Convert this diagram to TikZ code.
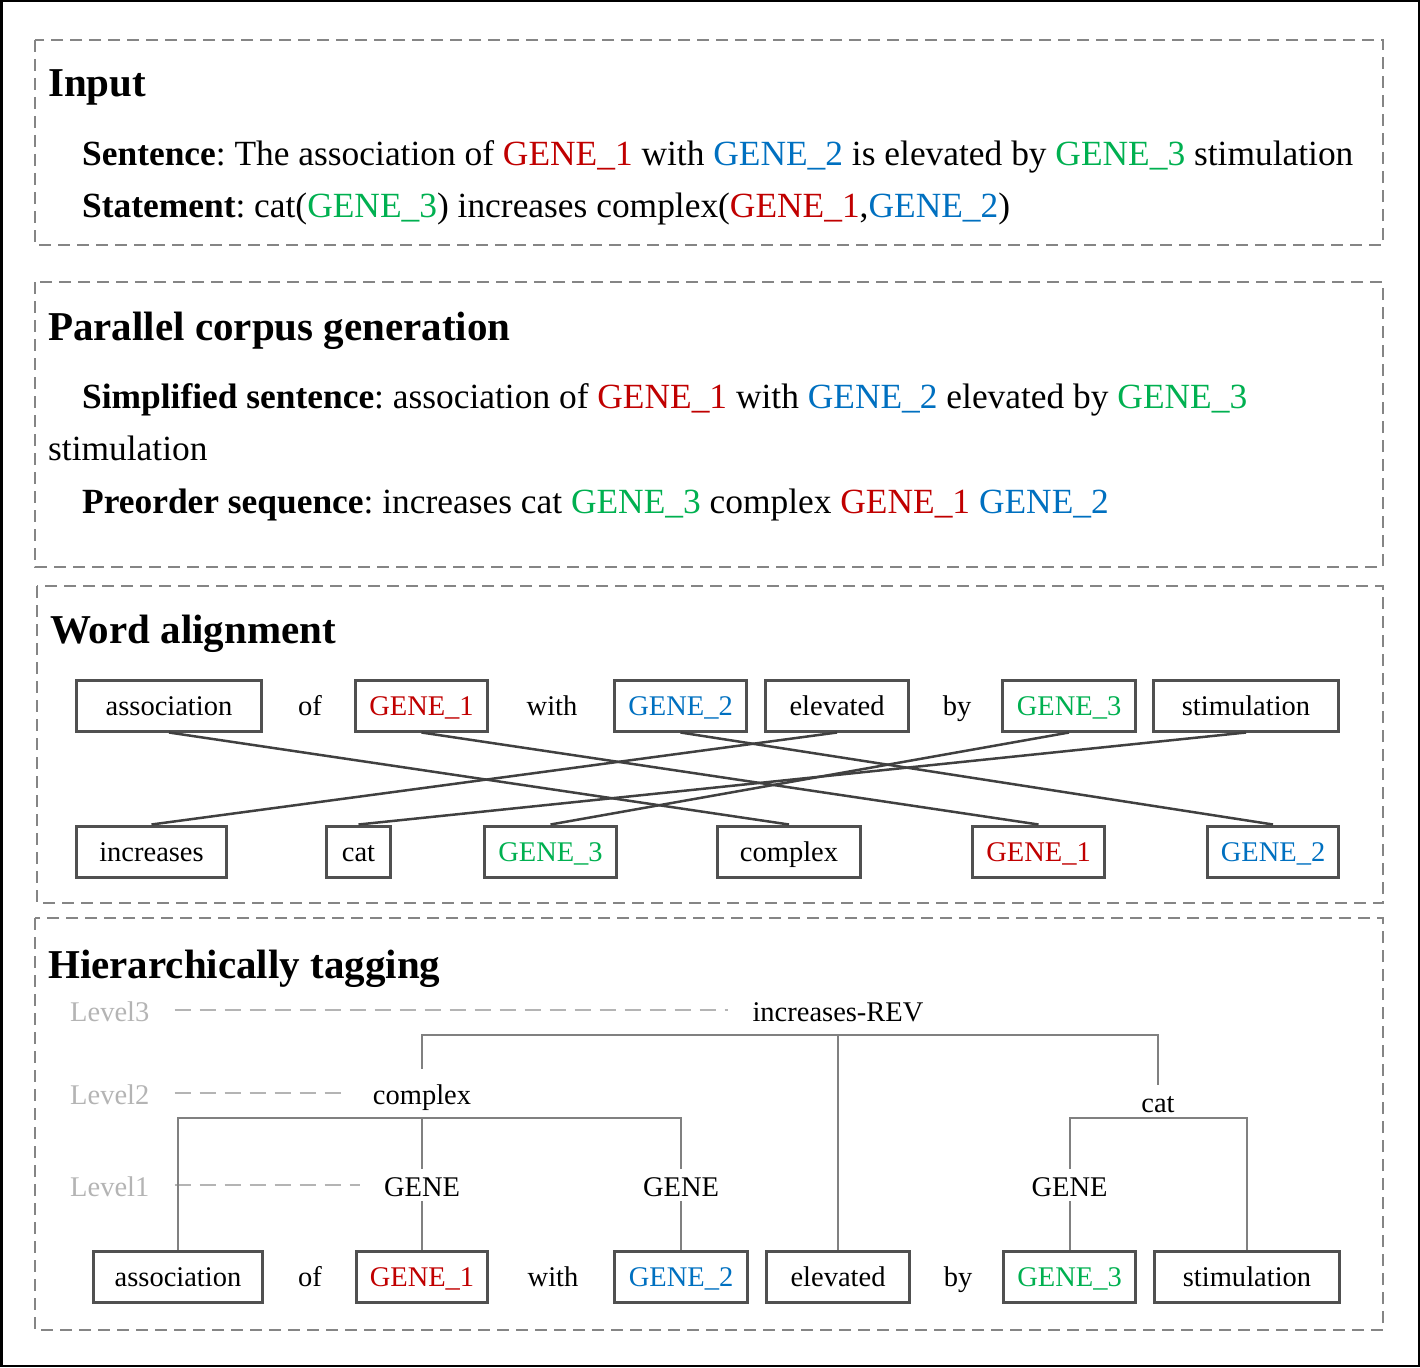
\documentclass[tikz,border=0pt]{standalone}
\usepackage{fontspec}
\setmainfont{Liberation Serif}
\usetikzlibrary{positioning}
\frenchspacing
\definecolor{genered}{HTML}{C00000}
\definecolor{geneblue}{HTML}{0070C0}
\definecolor{genegreen}{HTML}{00B050}
\definecolor{panelgray}{HTML}{858585}
\definecolor{boxgray}{HTML}{505050}
\definecolor{linegray}{HTML}{404040}
\definecolor{treegray}{HTML}{808080}
\definecolor{levelgray}{HTML}{B4B4B4}
\newcommand{\redtxt}[1]{\textcolor{genered}{#1}}
\newcommand{\bluetxt}[1]{\textcolor{geneblue}{#1}}
\newcommand{\greentxt}[1]{\textcolor{genegreen}{#1}}
\tikzset{
  panel_b/.style = {draw=panelgray, line width=2pt,
    dash pattern=on 12pt off 7pt},% dashed frame of a step
  title_n/.style = {anchor=base west, inner sep=0pt,
    font=\fontsize{41}{46}\selectfont\bfseries},
  text_n/.style = {anchor=base west, inner sep=0pt,
    font=\fontsize{35.4}{40}\selectfont},
  word_n/.style = {inner sep=0pt, text height=21pt, text depth=2pt,
    font=\fontsize{28.5}{32}\selectfont},% plain word
  box_n/.style = {word_n, draw=boxgray, line width=3pt,
    minimum height=51pt},% framed word
  tag_n/.style = {anchor=base, inner sep=0pt, text height=27pt,
    text depth=5pt, font=\fontsize{28.5}{32}\selectfont},% tree label
  level_n/.style = {tag_n, anchor=base west, text=levelgray},
  align_e/.style = {draw=linegray, line width=2.5pt},
  tree_e/.style = {draw=treegray, line width=2pt},
  level_e/.style = {draw=levelgray, line width=2pt,
    dash pattern=on 16pt off 9pt, shorten <=25pt, shorten >=24pt},
}

\begin{document}
\begin{tikzpicture}[x=1pt,y=-1pt]
\useasboundingbox (0,0) rectangle (1420,1367);
\draw[black, line width=2.5pt] (1.25,1.25) rectangle (1418.75,1365.75);

% panels
\draw[panel_b] (35,40) rectangle (1383,245);
\draw[panel_b] (35,282) rectangle (1383,567);
\draw[panel_b] (37,586) rectangle (1383,903);
\draw[panel_b] (35,918) rectangle (1383,1330);

% input
\node[title_n] (in_t) at (48,97) {Input};
\node[text_n] (in_s) at (82,165) {\textbf{Sentence}: The association of \redtxt{GENE\_1} with \bluetxt{GENE\_2} is elevated by \greentxt{GENE\_3} stimulation};
\node[text_n] (in_st) at (82,217) {\textbf{Statement}: cat(\greentxt{GENE\_3}) increases complex(\redtxt{GENE\_1},\bluetxt{GENE\_2})};

% parallel corpus
\node[title_n] (pc_t) at (48,340) {Parallel corpus generation};
\node[text_n] (pc_s) at (82,408) {\textbf{Simplified sentence}: association of \redtxt{GENE\_1} with \bluetxt{GENE\_2} elevated by \greentxt{GENE\_3}};
\node[text_n] (pc_s2) at (48,460) {stimulation};
\node[text_n] (pc_p) at (82,513) {\textbf{Preorder sequence}: increases cat \greentxt{GENE\_3} complex \redtxt{GENE\_1} \bluetxt{GENE\_2}};

% word alignment
\node[title_n] (wa_t) at (50,643) {Word alignment};
\node[box_n, minimum width=185pt] (wa_assoc) at (169,705.5) {association};
\node[word_n] (wa_of) at (310,705.5) {of};
\node[box_n, minimum width=132pt, text=genered] (wa_g1) at (421.5,705.5) {GENE\_1};
\node[word_n] (wa_with) at (552,705.5) {with};
\node[box_n, minimum width=132pt, text=geneblue] (wa_g2) at (680.5,705.5) {GENE\_2};
\node[box_n, minimum width=143pt] (wa_elev) at (837,705.5) {elevated};
\node[word_n] (wa_by) at (957,705.5) {by};
\node[box_n, minimum width=133pt, text=genegreen] (wa_g3) at (1069,705.5) {GENE\_3};
\node[box_n, minimum width=185pt] (wa_stim) at (1246,705.5) {stimulation};

\node[box_n, minimum width=150pt] (wb_inc) at (151.5,851.5) {increases};
\node[box_n, minimum width=64pt] (wb_cat) at (358.5,851.5) {cat};
\node[box_n, minimum width=132pt, text=genegreen] (wb_g3) at (550.5,851.5) {GENE\_3};
\node[box_n, minimum width=143pt] (wb_cmplx) at (789,851.5) {complex};
\node[box_n, minimum width=132pt, text=genered] (wb_g1) at (1038.5,851.5) {GENE\_1};
\node[box_n, minimum width=131pt, text=geneblue] (wb_g2) at (1273,851.5) {GENE\_2};

\draw[align_e] (wa_assoc.south) -- (wb_cmplx.north);
\draw[align_e] (wa_g1.south) -- (wb_g1.north);
\draw[align_e] (wa_g2.south) -- (wb_g2.north);
\draw[align_e] (wa_elev.south) -- (wb_inc.north);
\draw[align_e] (wa_g3.south) -- (wb_g3.north);
\draw[align_e] (wa_stim.south) -- (wb_cat.north);

% hierarchical tagging
\node[title_n] (ht_t) at (48,978) {Hierarchically tagging};
\node[level_n] (lv3) at (70,1021) {Level3};
\node[level_n] (lv2) at (70,1104) {Level2};
\node[level_n] (lv1) at (70,1196) {Level1};

\node[tag_n] (tg_rev) at (838,1021) {increases-REV};
\node[tag_n, text height=35pt] (tg_cmplx) at (422,1104) {complex};
\node[tag_n] (tg_cat) at (1158,1112) {cat};
\node[tag_n] (tg_g1) at (422,1196) {GENE};
\node[tag_n] (tg_g2) at (681,1196) {GENE};
\node[tag_n] (tg_g3) at (1069.5,1196) {GENE};

\node[box_n, minimum width=169pt] (t_assoc) at (178,1277) {association};
\node[word_n] (t_of) at (310,1277) {of};
\node[box_n, minimum width=131pt, text=genered] (t_g1) at (422,1277) {GENE\_1};
\node[word_n] (t_with) at (553,1277) {with};
\node[box_n, minimum width=133pt, text=geneblue] (t_g2) at (681,1277) {GENE\_2};
\node[box_n, minimum width=143pt] (t_elev) at (838,1277) {elevated};
\node[word_n] (t_by) at (958,1277) {by};
\node[box_n, minimum width=132pt, text=genegreen] (t_g3) at (1069.5,1277) {GENE\_3};
\node[box_n, minimum width=185pt] (t_stim) at (1247,1277) {stimulation};

\draw[level_e] (lv3.east) -- (lv3.east -| tg_rev.west);
\draw[level_e] (lv2.east) -- (lv2.east -| tg_cmplx.west);
\draw[level_e] (lv1.east) -- (lv1.east -| tg_g1.west);

\coordinate (bar3) at (838,1035);
\coordinate (bar2) at (422,1118);
\coordinate (bar_cat) at (1158,1118);
\draw[tree_e] (tg_cmplx.north) |- (bar3) -| (tg_cat.north);
\draw[tree_e] (bar3) -- (t_elev.north);
\draw[tree_e] (t_assoc.north) |- (bar2) -| (tg_g2.north);
\draw[tree_e] (bar2) -- (tg_g1.north);
\draw[tree_e] (tg_g1.south) -- (t_g1.north);
\draw[tree_e] (tg_g2.south) -- (t_g2.north);
\draw[tree_e] (tg_g3.north) |- (bar_cat) -| (t_stim.north);
\draw[tree_e] (tg_g3.south) -- (t_g3.north);
\end{tikzpicture}
\end{document}
